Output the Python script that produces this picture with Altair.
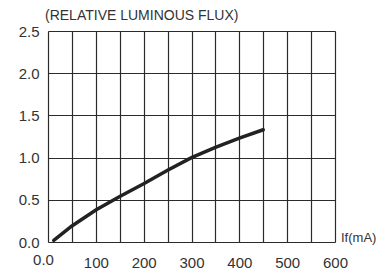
import altair as alt
import pandas as pd

current_ma = [12, 50, 100, 150, 200, 250, 300, 350, 400, 450]
rel_flux = [0.02, 0.19, 0.38, 0.54, 0.69, 0.85, 1.00, 1.12, 1.23, 1.33]
x_grid = [0, 50, 100, 150, 200, 250, 300, 350, 400, 450, 500, 550, 600]
y_grid = [0.0, 0.5, 1.0, 1.5, 2.0, 2.5]
title_text = "(RELATIVE LUMINOUS FLUX)"
x_unit = "If(mA)"
x_origin_label = "0.0"

df = pd.DataFrame({"If": current_ma, "flux": rel_flux})

FONT = "Liberation Sans"
GREY = "#333333"

x_enc = alt.X(
    "If:Q",
    scale=alt.Scale(domain=[0, 600], nice=False),
    axis=alt.Axis(
        values=x_grid, title=None, ticks=False, domain=False,
        grid=True, gridColor="#2a2a2a", gridWidth=1.2, gridOpacity=1,
        labelExpr="(datum.value > 0 && datum.value % 100 == 0) ? datum.label : ''",
        labelFont=FONT, labelFontSize=15, labelColor=GREY, labelPadding=13,
        labelFlush=False,
    ),
)
y_enc = alt.Y(
    "flux:Q",
    scale=alt.Scale(domain=[0, 2.5], nice=False),
    axis=alt.Axis(
        values=y_grid, format=".1f", title=None, ticks=False, domain=False,
        grid=True, gridColor="#2a2a2a", gridWidth=1.2, gridOpacity=1,
        labelFont=FONT, labelFontSize=15, labelColor=GREY, labelPadding=9,
        labelFlush=False,
    ),
)

line = alt.Chart(df).mark_line(color="#222222", strokeWidth=3.5, strokeCap="round").encode(
    x=x_enc, y=y_enc
)

title = alt.Chart(pd.DataFrame({"t": [title_text]})).mark_text(
    align="left", baseline="middle", font=FONT, fontSize=14, color=GREY
).encode(x=alt.value(-3), y=alt.value(-15), text="t:N")

unit = alt.Chart(pd.DataFrame({"t": [x_unit]})).mark_text(
    align="left", baseline="middle", font=FONT, fontSize=13, color=GREY
).encode(x=alt.value(293), y=alt.value(207), text="t:N")

origin = alt.Chart(pd.DataFrame({"t": [x_origin_label]})).mark_text(
    align="center", baseline="top", font=FONT, fontSize=15, color=GREY
).encode(x=alt.value(-4.5), y=alt.value(222), text="t:N")

chart = (line + title + unit + origin).properties(
    width=287, height=211,
    autosize=alt.AutoSizeParams(type="none"),
    padding={"left": 40, "top": 23, "right": 43, "bottom": 30},
).configure_view(stroke="#2a2a2a", strokeWidth=1.2).configure(background="white")

chart.save("out.html", embed_options={"renderer": "svg", "actions": False})
